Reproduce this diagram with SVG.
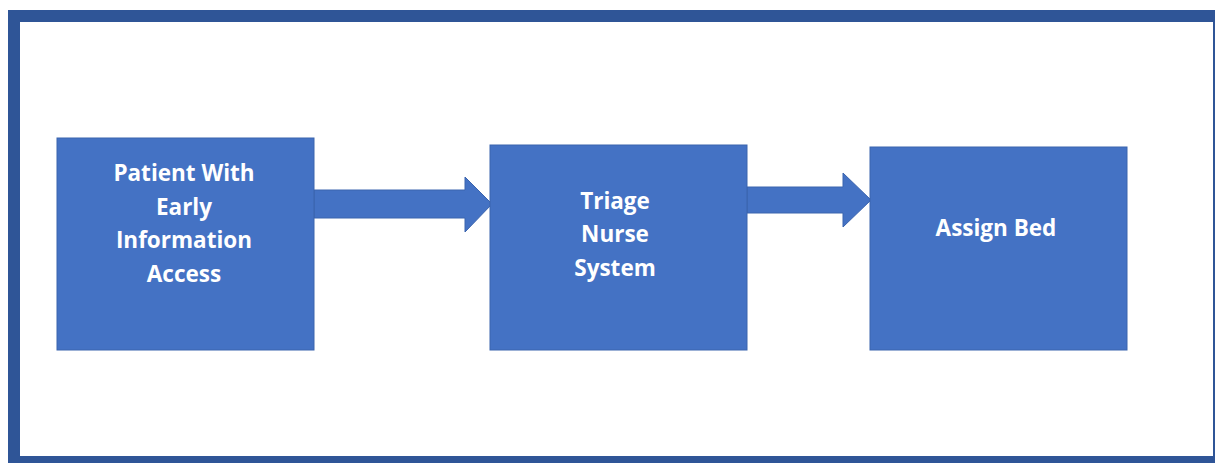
<svg xmlns="http://www.w3.org/2000/svg" width="1215" height="463" viewBox="0 0 1215 463">
<style>
.box{fill:#4472C4;stroke:#3A64AE;stroke-width:1}
.lbl{font-family:"Open Sans","Liberation Sans",sans-serif;font-weight:bold;font-size:22.5px;fill:#FFFFFF;text-anchor:middle}
.arr{fill:#4472C4;stroke:#3A64AE;stroke-width:1}
</style>
<rect x="0" y="0" width="1215" height="463" fill="#FFFFFF"/>
<rect x="14" y="16" width="1205" height="446" fill="#FFFFFF" stroke="#2F5597" stroke-width="12"/>
<g id="connectors">
<polygon class="arr" points="314,190 465,190 465,177 492,204 465,232 465,218 314,218"/>
<polygon class="arr" points="747,187 843,187 843,173 871,200 843,227 843,213 747,213"/>
</g>
<g id="node1">
<rect class="box" x="57" y="138" width="257" height="212"/>
<text class="lbl" x="184" y="181">Patient With</text>
<text class="lbl" x="184" y="215">Early</text>
<text class="lbl" x="184" y="248">Information</text>
<text class="lbl" x="184" y="282">Access</text>
</g>
<g id="node2">
<rect class="box" x="490" y="145" width="257" height="205"/>
<text class="lbl" x="615" y="209">Triage</text>
<text class="lbl" x="615" y="242">Nurse</text>
<text class="lbl" x="615" y="276">System</text>
</g>
<g id="node3">
<rect class="box" x="870" y="147" width="257" height="203"/>
<text class="lbl" x="996" y="236">Assign Bed</text>
</g>
</svg>
